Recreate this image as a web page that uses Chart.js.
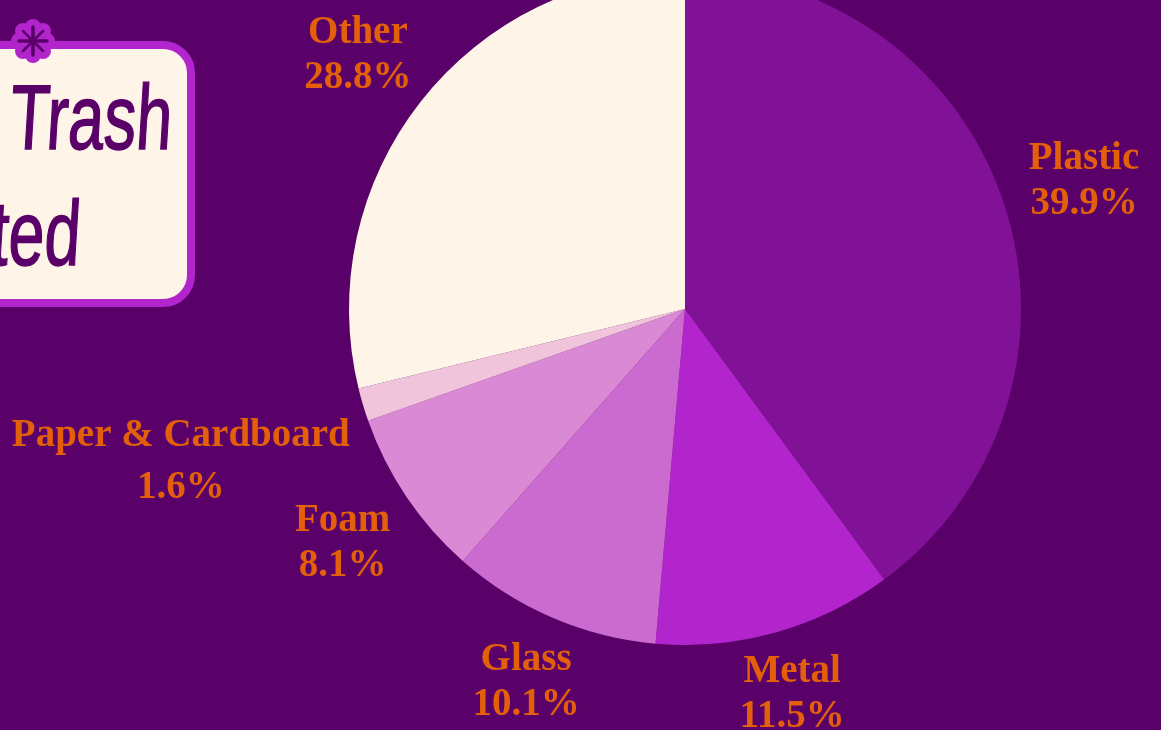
<!DOCTYPE html>
<html>
<head>
<meta charset="utf-8">
<title>Trash pie</title>
<script src="https://cdn.jsdelivr.net/npm/chart.js@4/dist/chart.umd.min.js"></script>
<style>
  html, body { margin: 0; height: 100%; overflow: hidden; background: #590069; }
  #chart { position: absolute; left: 0; top: -100px; }
  .card {
    position: absolute; left: -60px; top: 41px; width: 239px; height: 250px;
    background: #fff4e8; border: 8px solid #b224cc; border-radius: 32px;
    overflow: hidden; color: #590069;
    font-family: "Liberation Sans", sans-serif; font-size: 92px;
  }
  .card span {
    position: absolute; line-height: 1; white-space: nowrap;
    transform-origin: right bottom; transform: scaleX(0.7) skewX(-5deg);
    -webkit-text-stroke: 1.5px #590069;
  }
  .badge { position: absolute; left: 11px; top: 19px; }
</style>
</head>
<body>
<canvas id="chart" width="1161" height="830"></canvas>
<div class="card">
  <span style="right:17px; top:22px">Trash</span>
  <span style="right:109px; top:138px">ted</span>
</div>
<svg class="badge" width="44" height="44" viewBox="-22 -22 44 44">
  <g fill="#b224cc">
    <circle r="16"/>
    <circle cx="0" cy="-14" r="8"/><circle cx="10" cy="-10" r="8"/><circle cx="14" cy="0" r="8"/><circle cx="10" cy="10" r="8"/>
    <circle cx="0" cy="14" r="8"/><circle cx="-10" cy="10" r="8"/><circle cx="-14" cy="0" r="8"/><circle cx="-10" cy="-10" r="8"/>
  </g>
  <g stroke="#590069" stroke-linecap="round">
    <g stroke-width="3.5">
      <line x1="0" y1="-14" x2="0" y2="14"/><line x1="-14" y1="0" x2="14" y2="0"/>
    </g>
    <g stroke-width="2.5">
      <line x1="-10" y1="-10" x2="10" y2="10"/><line x1="-10" y1="10" x2="10" y2="-10"/>
    </g>
  </g>
</svg>
<script>
  const categories = ["Plastic", "Metal", "Glass", "Foam", "Paper & Cardboard", "Other"];
  const shares = [39.9, 11.5, 10.1, 8.1, 1.6, 28.8];
  const sliceColors = ["#811196", "#b224cc", "#cb6bd0", "#da8ad4", "#f0c4db", "#fff4e8"];

  // distance of each label from the pie centre, the paper one sits far out
  const labelDistance = [420, 397, 403, 413, 526, 416];

  const sliceLabels = {
    id: "sliceLabels",
    afterDatasetsDraw(chart) {
      const ctx = chart.ctx;
      ctx.save();
      ctx.fillStyle = "#e35f0a";
      ctx.font = 'bold 39px "Liberation Serif", serif';
      ctx.textAlign = "center";
      ctx.textBaseline = "middle";
      chart.getDatasetMeta(0).data.forEach((arc, i) => {
        const mid = (arc.startAngle + arc.endAngle) / 2;
        const x = arc.x + Math.cos(mid) * labelDistance[i];
        const y = arc.y + Math.sin(mid) * labelDistance[i] + 3;
        const gap = categories[i].length > 10 ? 26 : 22.5;
        ctx.fillText(categories[i], x, y - gap);
        ctx.fillText(shares[i].toFixed(1) + "%", x, y + gap);
      });
      ctx.restore();
    },
  };

  new Chart(document.getElementById("chart"), {
    type: "pie",
    data: {
      labels: categories,
      datasets: [{ data: shares, backgroundColor: sliceColors, borderWidth: 0 }],
    },
    options: {
      responsive: false,
      animation: false,
      layout: { padding: { left: 349, right: 140, top: 73, bottom: 85 } },
      plugins: { legend: { display: false }, tooltip: { enabled: false } },
    },
    plugins: [sliceLabels],
  });
</script>
</body>
</html>
